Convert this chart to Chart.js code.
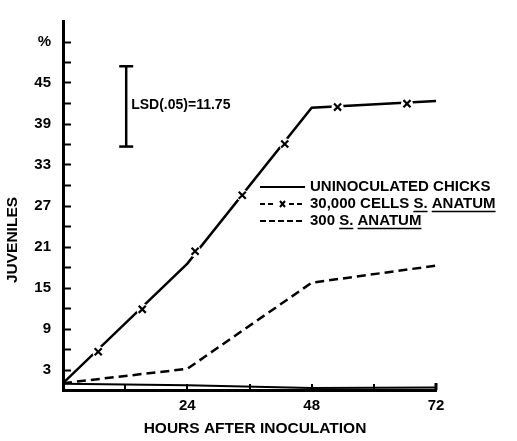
<!DOCTYPE html>
<html>
<head>
<meta charset="utf-8">
<script src="https://cdn.jsdelivr.net/npm/chart.js@4/dist/chart.umd.min.js"></script>
<style>
  body { margin: 0; background: #fff; }
  canvas { display: block; }
</style>
</head>
<body>
<canvas id="chart" width="517" height="441"></canvas>
<script>
// data
const hours = [0, 24, 48, 72];
const uninoculated = [0.9, 0.7, 0.3, 0.35];
const cells30000 = [1.0, 18.5, 41.3, 42.3];
const anatum300 = [1.0, 3.1, 15.7, 18.2];
const markerHours = [6.8, 15.3, 25.5, 34.6, 42.8, 53.0, 66.4];
const markerValues = [5.6, 11.8, 20.3, 28.5, 36.0, 41.4, 41.9];
const lsdHour = 12.2;
const lsdCenter = 41.5;
const lsdValue = 11.75;
const yTickValues = [3, 9, 15, 21, 27, 33, 39, 45, 51];
const yTickLabels = ["3", "9", "15", "21", "27", "33", "39", "45", "%"];
const xTickValues = [24, 48, 72];
const xTickLabels = ["24", "48", "72"];

const FONT = "'Liberation Sans', Arial, sans-serif";

function pts(xs, ys) {
  return xs.map((x, i) => ({ x: x, y: ys[i] }));
}

// inward tick marks, titles, LSD label and the key
const decor = {
  id: "decor",
  afterDatasetsDraw(chart) {
    const ctx = chart.ctx;
    const xs = chart.scales.x;
    const ys = chart.scales.y;
    const area = chart.chartArea;
    ctx.save();
    ctx.strokeStyle = "#000";
    ctx.fillStyle = "#000";
    ctx.lineWidth = 2;
    for (let v = 3; v <= 51; v += 3) {
      const py = Math.round(ys.getPixelForValue(v)) + 0.5;
      ctx.beginPath();
      ctx.moveTo(area.left, py);
      ctx.lineTo(area.left + 8, py);
      ctx.stroke();
    }
    for (let h = 12; h <= 72; h += 12) {
      const px = Math.round(xs.getPixelForValue(h));
      ctx.beginPath();
      ctx.moveTo(px, area.bottom);
      ctx.lineTo(px, area.bottom - (h === 72 ? 7 : 6));
      ctx.lineWidth = h === 72 ? 3 : 2;
      ctx.stroke();
    }

    // LSD label
    ctx.font = "bold 14px " + FONT;
    ctx.textBaseline = "middle";
    ctx.textAlign = "left";
    ctx.fillText("LSD(.05)=11.75", xs.getPixelForValue(lsdHour) + 5, ys.getPixelForValue(lsdCenter) - 1);

    // axis titles
    ctx.font = "bold 15.5px " + FONT;
    ctx.textAlign = "center";
    ctx.fillText("HOURS AFTER INOCULATION", 255, 429);
    ctx.save();
    ctx.translate(13, 240);
    ctx.rotate(-Math.PI / 2);
    ctx.fillText("JUVENILES", 0, 0);
    ctx.restore();

    // key
    const kx0 = 260, kx1 = 305, tx = 310;
    const rows = [187, 204, 221];
    ctx.lineWidth = 2;
    ctx.beginPath();
    ctx.moveTo(kx0, rows[0]);
    ctx.lineTo(kx1, rows[0]);
    ctx.stroke();

    ctx.setLineDash([5, 3]);
    ctx.beginPath();
    ctx.moveTo(kx0, rows[1]);
    ctx.lineTo(kx0 + 16, rows[1]);
    ctx.moveTo(kx0 + 29, rows[1]);
    ctx.lineTo(kx1, rows[1]);
    ctx.stroke();
    ctx.setLineDash([]);
    ctx.beginPath();
    ctx.moveTo(kx0 + 20, rows[1] - 3);
    ctx.lineTo(kx0 + 25, rows[1] + 3);
    ctx.moveTo(kx0 + 25, rows[1] - 3);
    ctx.lineTo(kx0 + 20, rows[1] + 3);
    ctx.stroke();

    ctx.setLineDash([6, 3]);
    ctx.beginPath();
    ctx.moveTo(kx0, rows[2]);
    ctx.lineTo(kx1, rows[2]);
    ctx.stroke();
    ctx.setLineDash([]);

    ctx.font = "bold 15px " + FONT;
    ctx.textAlign = "left";
    const parts = [
      [["UNINOCULATED CHICKS", false]],
      [["30,000 CELLS ", false], ["S.", true], [" ", false], ["ANATUM", true]],
      [["300 ", false], ["S.", true], [" ", false], ["ANATUM", true]]
    ];
    ctx.lineWidth = 1.5;
    parts.forEach((row, i) => {
      let x = tx;
      row.forEach(([txt, under]) => {
        ctx.fillText(txt, x, rows[i]);
        const w = ctx.measureText(txt).width;
        if (under) {
          ctx.beginPath();
          ctx.moveTo(x, rows[i] + 7.5);
          ctx.lineTo(x + w, rows[i] + 7.5);
          ctx.stroke();
        }
        x += w;
      });
    });
    ctx.restore();
  }
};

new Chart(document.getElementById("chart"), {
  type: "scatter",
  data: {
    datasets: [
      {
        data: pts(markerHours, markerValues),
        pointStyle: "crossRot",
        pointRadius: 5,
        borderColor: "#000",
        borderWidth: 2.2,
        showLine: false
      },
      {
        data: pts(markerHours, markerValues),
        pointStyle: "circle",
        pointRadius: 6,
        backgroundColor: "#fff",
        borderWidth: 0,
        showLine: false
      },
      {
        data: pts(hours, cells30000),
        showLine: true,
        borderColor: "#000",
        borderWidth: 2.5,
        pointRadius: 0
      },
      {
        data: pts(hours, uninoculated),
        showLine: true,
        borderColor: "#000",
        borderWidth: 2,
        pointRadius: 0
      },
      {
        data: pts(hours, anatum300),
        showLine: true,
        borderColor: "#000",
        borderWidth: 2.5,
        borderDash: [9, 5],
        pointRadius: 0
      },
      {
        data: [
          { x: lsdHour, y: lsdCenter - lsdValue / 2 },
          { x: lsdHour, y: lsdCenter + lsdValue / 2 }
        ],
        showLine: true,
        borderColor: "#000",
        borderWidth: 2.5,
        pointStyle: "line",
        pointRadius: 7,
        pointBorderWidth: 2.5
      }
    ]
  },
  options: {
    responsive: false,
    animation: false,
    devicePixelRatio: 1,
    layout: { padding: { top: 7, right: 81, bottom: 0, left: 0 } },
    plugins: { legend: { display: false }, tooltip: { enabled: false } },
    scales: {
      x: {
        type: "linear",
        min: 0,
        max: 72,
        afterFit(scale) { scale.height = 51; },
        afterBuildTicks(scale) {
          scale.ticks = xTickValues.map(v => ({ value: v }));
        },
        ticks: {
          color: "#000",
          padding: 7,
          maxRotation: 0,
          font: { family: FONT, size: 15, weight: "bold" },
          callback(v) {
            const i = xTickValues.indexOf(v);
            return i >= 0 ? xTickLabels[i] : "";
          }
        },
        grid: { drawOnChartArea: false, drawTicks: false },
        border: { display: true, color: "#000", width: 3 }
      },
      y: {
        min: 0,
        max: 54,
        afterFit(scale) { scale.width = 63; },
        afterBuildTicks(scale) {
          scale.ticks = yTickValues.map(v => ({ value: v }));
        },
        ticks: {
          color: "#000",
          padding: 12,
          font: { family: FONT, size: 15, weight: "bold" },
          callback(v) {
            const i = yTickValues.indexOf(v);
            return i >= 0 ? yTickLabels[i] : "";
          }
        },
        grid: { drawOnChartArea: false, drawTicks: false },
        border: { display: true, color: "#000", width: 3 }
      }
    }
  },
  plugins: [decor]
});
</script>
</body>
</html>
